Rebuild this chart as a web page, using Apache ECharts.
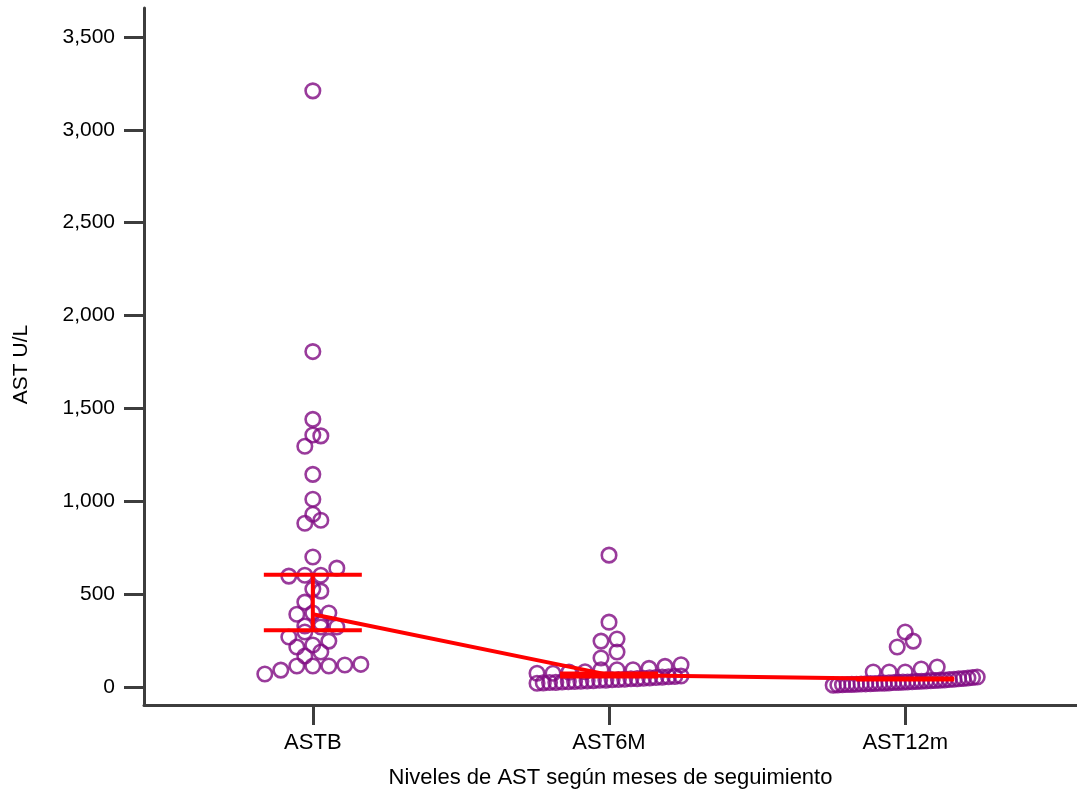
<!DOCTYPE html>
<html>
<head>
<meta charset="utf-8">
<script src="https://cdn.jsdelivr.net/npm/echarts@6/dist/echarts.min.js"></script>
<style>
html,body{margin:0;padding:0;background:#fff;}
#chart{width:1077px;height:794px;}
</style>
</head>
<body>
<div id="chart"></div>
<script>
// ---- data ----
const categories = ['ASTB', 'AST6M', 'AST12m'];
const yTicks = [0, 500, 1000, 1500, 2000, 2500, 3000, 3500];
const astB = [3210, 1806, 1441, 1357, 1352, 1296, 1145, 1011, 930, 898, 882, 700, 640, 602, 602, 597, 527, 516, 457, 398, 398, 392, 344, 328, 323, 323, 296, 269, 247, 226, 215, 188, 167, 122, 118, 113, 113, 113, 91, 70];
const ast6M = [710, 349, 258, 247, 188, 156,
  74, 74, 80, 82, 93, 93, 93, 100, 111, 120,
  20, 22, 24, 25, 27, 28, 30, 31, 33, 34, 36, 37, 39, 40, 42, 44, 45, 47, 49, 51, 53, 55, 57, 59];
const ast12m = [296, 247, 215,
  81, 81, 81, 97, 108,
  10, 11, 12, 13, 14, 15, 16, 17, 18, 19, 20, 21, 22, 24, 25, 26, 27, 28, 30, 31, 32, 34, 35, 37, 38, 40, 42, 44, 46, 48, 51, 54];
const medians = [392, 65, 43];
const lowBars = [306, 57, 40];
const highBars = [604, 72, 46];

const AXIS_COLOR = '#3d3d3d';
const PURPLE = '#800a82';
const FONT = '"Liberation Sans", Arial, sans-serif';

const chart = echarts.init(document.getElementById('chart'), null, {renderer: 'canvas'});

const baseOption = {
  animation: false,
  backgroundColor: '#fff',
  grid: {left: 144, right: 0, top: 8, bottom: 88, containLabel: false},
  xAxis: {
    type: 'value', min: 0.43, max: 3.58,
    name: 'Niveles de AST según meses de seguimiento',
    nameLocation: 'middle', nameGap: 62,
    nameTextStyle: {fontFamily: FONT, fontSize: 22, color: '#000'},
    axisLine: {show: true, onZero: false, lineStyle: {color: AXIS_COLOR, width: 3}},
    axisTick: {show: true, length: 20, lineStyle: {color: AXIS_COLOR, width: 3}, customValues: [1, 2, 3]},
    axisLabel: {
      customValues: [1, 2, 3], margin: 27,
      fontFamily: FONT, fontSize: 22, color: '#000',
      formatter: v => categories[Math.round(v) - 1] || ''
    },
    splitLine: {show: false}
  },
  yAxis: {
    type: 'value', min: -97, max: 3656,
    name: 'AST U/L', nameLocation: 'middle', nameGap: 112, nameRotate: 90,
    nameTextStyle: {fontFamily: FONT, fontSize: 21, color: '#000', padding: [0, 16, 0, 0]},
    axisLine: {show: true, onZero: false, lineStyle: {color: AXIS_COLOR, width: 3}},
    axisTick: {show: true, length: 20, lineStyle: {color: AXIS_COLOR, width: 3}, customValues: yTicks},
    axisLabel: {
      customValues: yTicks, margin: 29,
      fontFamily: FONT, fontSize: 21, color: '#000',
      formatter: v => Number(v).toLocaleString('en-US')
    },
    splitLine: {show: false}
  },
  series: []
};
chart.setOption(baseOption);

// layout of dots: bin by pixel rows, spread sorted values left to right
const ROW_PX = 12, STEP_PX = 16, MAX_W = 144;
const pxPerUnit = chart.convertToPixel({xAxisIndex: 0}, 2) - chart.convertToPixel({xAxisIndex: 0}, 1);
const y0px = chart.convertToPixel({yAxisIndex: 0}, 0);
function swarm(values, center) {
  const bins = {};
  values.forEach(v => {
    const py = chart.convertToPixel({yAxisIndex: 0}, v);
    const b = Math.floor((y0px - py) / ROW_PX);
    (bins[b] = bins[b] || []).push(v);
  });
  const out = [];
  Object.keys(bins).forEach(k => {
    const arr = bins[k].slice().sort((a, b) => a - b);
    const n = arr.length;
    const s = n > 1 ? Math.min(STEP_PX, MAX_W / (n - 1)) : 0;
    arr.forEach((v, i) => out.push([center + (i - (n - 1) / 2) * s / pxPerUnit, v]));
  });
  return out;
}

const groups = [astB, ast6M, ast12m];
const scatterSeries = groups.map((vals, gi) => ({
  type: 'scatter',
  data: swarm(vals, gi + 1),
  symbol: 'circle',
  symbolSize: 14.5,
  itemStyle: {color: 'rgba(255,255,255,0)', borderColor: PURPLE, borderWidth: 2.6},
  z: 2
}));

const medianLine = {
  type: 'line',
  data: medians.map((m, i) => [i + 1, m]),
  showSymbol: false, symbol: 'none',
  lineStyle: {color: '#ff0000', width: 4},
  z: 5
};

const barHalf = 49;
const errorBars = {
  type: 'custom',
  data: categories.map((c, i) => [i + 1, lowBars[i], highBars[i]]),
  renderItem: (params, api) => {
    const x = api.value(0);
    const lo = api.coord([x, api.value(1)]);
    const hi = api.coord([x, api.value(2)]);
    const style = {stroke: '#ff0000', lineWidth: 4, fill: null};
    return {
      type: 'group',
      children: [
        {type: 'line', shape: {x1: lo[0] - barHalf, y1: lo[1], x2: lo[0] + barHalf, y2: lo[1]}, style},
        {type: 'line', shape: {x1: hi[0] - barHalf, y1: hi[1], x2: hi[0] + barHalf, y2: hi[1]}, style},
        {type: 'line', shape: {x1: lo[0], y1: lo[1], x2: hi[0], y2: hi[1]}, style}
      ]
    };
  },
  z: 6
};

chart.setOption({series: scatterSeries.concat([medianLine, errorBars])});
</script>
</body>
</html>
